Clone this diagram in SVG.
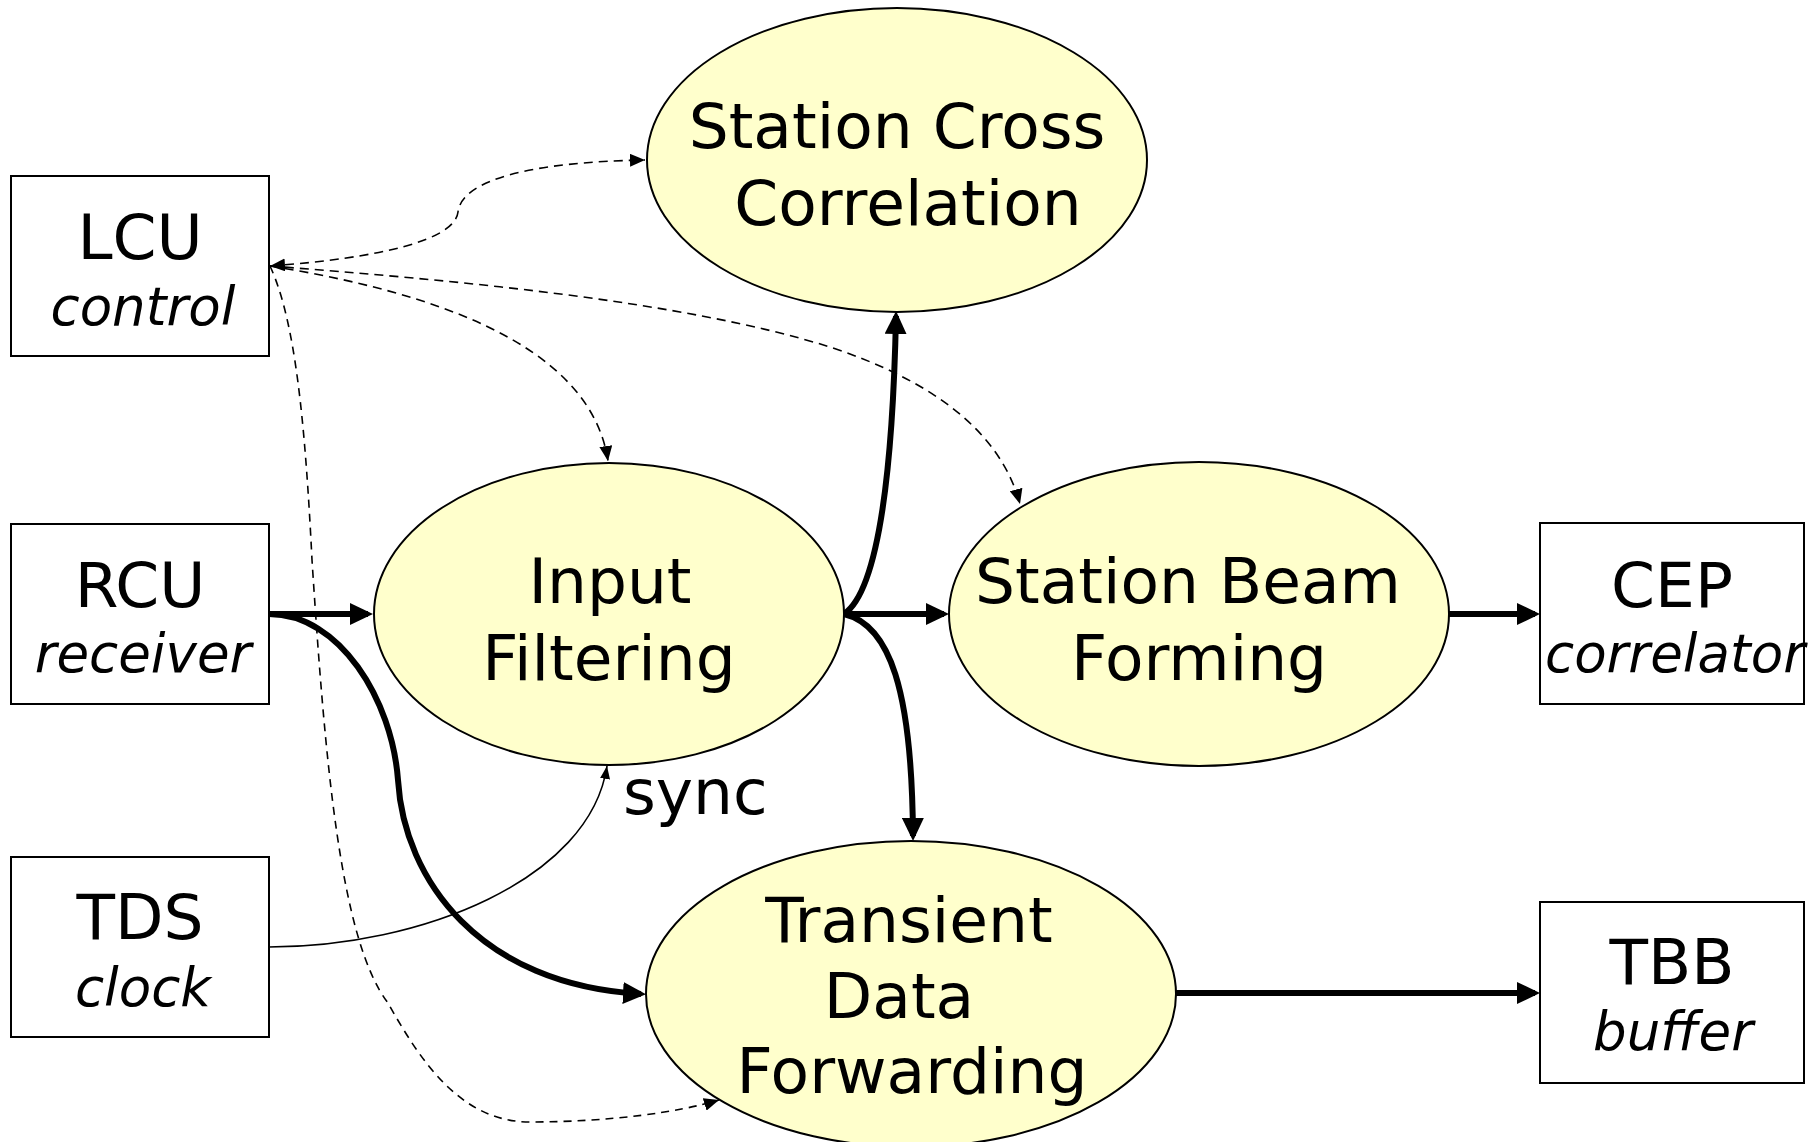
<svg xmlns="http://www.w3.org/2000/svg" width="1818" height="1142" viewBox="0 0 1818 1142">
  <style>
    .box { fill: #ffffff; stroke: #000000; stroke-width: 2; }
    .proc { fill: #ffffcc; stroke: #000000; stroke-width: 2; }
    .lbl { font-family: "DejaVu Sans", Verdana, sans-serif; font-size: 63px; fill: #000000; text-anchor: middle; }
    .sub { font-family: "DejaVu Sans", Verdana, sans-serif; font-size: 53px; font-style: italic; fill: #000000; text-anchor: middle; }
    .data { fill: none; stroke: #000000; stroke-width: 6; marker-end: url(#headBig); }
    .ctrl { fill: none; stroke: #000000; stroke-width: 1.6; stroke-dasharray: 9 6; marker-end: url(#headDash); }
    .fine { fill: none; stroke: #000000; stroke-width: 1.6; stroke-dasharray: 8 6; marker-end: url(#headDash); }
    .clk { fill: none; stroke: #000000; stroke-width: 1.6; marker-end: url(#headThin); }
  </style>
  <defs>
    <marker id="headBig" markerUnits="userSpaceOnUse" viewBox="0 0 23 22" markerWidth="23" markerHeight="22" refX="18" refY="11" orient="auto">
      <path d="M0,0 L23,11 L0,22 z" fill="#000000"/>
    </marker>
    <marker id="headDash" markerUnits="userSpaceOnUse" viewBox="0 0 15 13" markerWidth="15" markerHeight="13" refX="15" refY="6.5" orient="auto-start-reverse">
      <path d="M0,0 L15,6.5 L0,13 z" fill="#000000"/>
    </marker>
    <marker id="headThin" markerUnits="userSpaceOnUse" viewBox="0 0 13 10" markerWidth="13" markerHeight="10" refX="13" refY="5" orient="auto">
      <path d="M0,0 L13,5 L0,10 z" fill="#000000"/>
    </marker>
  </defs>

  <g id="connectors">
    <!-- control links from LCU -->
    <path class="ctrl" d="M270,266 C 380,258 455,240 458,212 C 462,180 530,162 645,160" marker-start="url(#headDash)"/>
    <path class="ctrl" d="M270,266 C 420,290 590,340 608,461"/>
    <path class="ctrl" d="M270,266 C 450,280 680,300 830,347 C 930,380 1000,430 1020,504"/>
    <path class="fine" d="M270,266 C 295,320 305,420 312,560 C 325,760 340,940 388,1003 C 420,1060 460,1122 530,1122 C 610,1122 680,1112 719,1100"/>
    <!-- clock sync -->
    <path class="clk" d="M269,947 C 420,947 590,880 607,766"/>
    <!-- data flow -->
    <path class="data" d="M269,614 L368,614"/>
    <path class="data" d="M269,614 C 340,614 392,700 398,780 C 404,880 480,985 641,994"/>
    <path class="data" d="M844,614 C 880,590 893,460 896,316"/>
    <path class="data" d="M844,614 L944,614"/>
    <path class="data" d="M844,614 C 890,625 912,690 913,836"/>
    <path class="data" d="M1449,614 L1535,614"/>
    <path class="data" d="M1176,993 L1535,993"/>
  </g>

  <g id="lcu">
    <rect class="box" x="11" y="176" width="258" height="180"/>
    <text class="lbl" x="140" y="259">LCU</text>
    <text class="sub" x="143" y="325">control</text>
  </g>
  <g id="rcu">
    <rect class="box" x="11" y="524" width="258" height="180"/>
    <text class="lbl" x="140" y="607">RCU</text>
    <text class="sub" x="143" y="672">receiver</text>
  </g>
  <g id="tds">
    <rect class="box" x="11" y="857" width="258" height="180"/>
    <text class="lbl" x="140" y="939">TDS</text>
    <text class="sub" x="143" y="1006">clock</text>
  </g>
  <g id="cep">
    <rect class="box" x="1540" y="523" width="264" height="181"/>
    <text class="lbl" x="1672" y="607">CEP</text>
    <text class="sub" x="1675" y="672">correlator</text>
  </g>
  <g id="tbb">
    <rect class="box" x="1540" y="902" width="264" height="181"/>
    <text class="lbl" x="1672" y="984">TBB</text>
    <text class="sub" x="1673" y="1050">buffer</text>
  </g>

  <g id="cross-correlation">
    <ellipse class="proc" cx="897" cy="160" rx="250" ry="152"/>
    <text class="lbl" x="897" y="148">Station Cross</text>
    <text class="lbl" x="908" y="225">Correlation</text>
  </g>
  <g id="input-filtering">
    <ellipse class="proc" cx="609" cy="614" rx="235" ry="151"/>
    <text class="lbl" x="610" y="603">Input</text>
    <text class="lbl" x="609" y="680">Filtering</text>
  </g>
  <g id="beam-forming">
    <ellipse class="proc" cx="1199" cy="614" rx="250" ry="152"/>
    <text class="lbl" x="1188" y="603">Station Beam</text>
    <text class="lbl" x="1199" y="680">Forming</text>
  </g>
  <g id="transient-forwarding">
    <ellipse class="proc" cx="911" cy="994" rx="265" ry="153"/>
    <text class="lbl" x="909" y="942">Transient</text>
    <text class="lbl" x="899" y="1018">Data</text>
    <text class="lbl" x="912" y="1093">Forwarding</text>
  </g>

  <text id="sync-label" class="lbl" x="623" y="814" style="text-anchor: start">sync</text>
</svg>
